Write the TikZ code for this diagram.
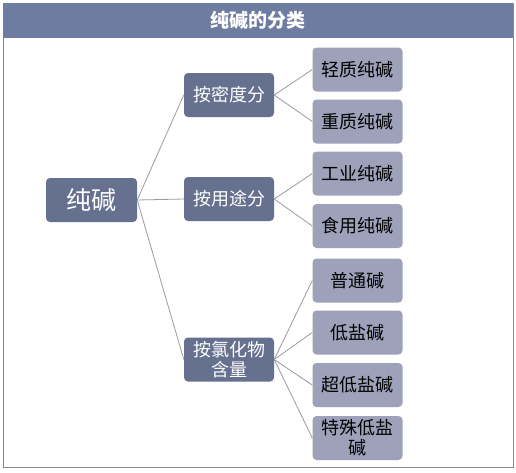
\documentclass[tikz,border=0pt]{standalone}
\usepackage{fontspec}
\newfontfamily\cjk{Noto Sans CJK SC}
\definecolor{titlebg}{HTML}{6F7CA1}
\definecolor{darkbox}{HTML}{66718F}
\definecolor{lightbox}{HTML}{9DA2BA}
\definecolor{linkgray}{HTML}{9A9AA4}
\definecolor{framegray}{HTML}{8A8A8A}
\tikzset{
  x=1pt, y=-1pt,
  boxbase/.style={rounded corners=4pt, minimum width=90pt, minimum height=44pt, align=center, inner sep=1pt, font=\cjk\fontsize{18}{20}\selectfont},
  rootbox/.style={boxbase, fill=darkbox, text=white, minimum width=91pt, font=\cjk\fontsize{25}{28}\selectfont},
  midbox/.style={boxbase, fill=darkbox, text=white},
  leafbox/.style={boxbase, fill=lightbox, text=black},
  link/.style={draw=linkgray, line width=0.8pt}
}
\begin{document}
\begin{tikzpicture}
\useasboundingbox (0,0) rectangle (516,472);
\fill[white] (0,0) rectangle (516,472);
\draw[framegray, line width=0.8pt] (3,3) rectangle (513,467);
\fill[titlebg] (3,3) rectangle (513,38);
\node[text=white, font=\cjk\bfseries\fontsize{19}{21}\selectfont] (title) at (258,20.5) {纯碱的分类};

\node[rootbox] (root) at (91.5,200) {纯碱};
\node[midbox] (m1) at (229,95) {按密度分};
\node[midbox] (m2) at (229,199) {按用途分};
\node[midbox] (m3) at (229,359.5) {按氯化物\\含量};

\node[leafbox] (l1) at (357.5,69.5) {轻质纯碱};
\node[leafbox] (l2) at (357.5,121.5) {重质纯碱};
\node[leafbox] (l3) at (357.5,173.5) {工业纯碱};
\node[leafbox] (l4) at (357.5,226) {食用纯碱};
\node[leafbox] (l5) at (357.5,280.5) {普通碱};
\node[leafbox] (l6) at (357.5,332.5) {低盐碱};
\node[leafbox] (l7) at (357.5,385) {超低盐碱};
\node[leafbox] (l8) at (357.5,438) {特殊低盐\\碱};

\foreach \c in {m1,m2,m3} \draw[link] (root.east) -- (\c.west);
\foreach \c in {l1,l2} \draw[link] (m1.east) -- (\c.west);
\foreach \c in {l3,l4} \draw[link] (m2.east) -- (\c.west);
\foreach \c in {l5,l6,l7,l8} \draw[link] (m3.east) -- (\c.west);
\end{tikzpicture}
\end{document}
